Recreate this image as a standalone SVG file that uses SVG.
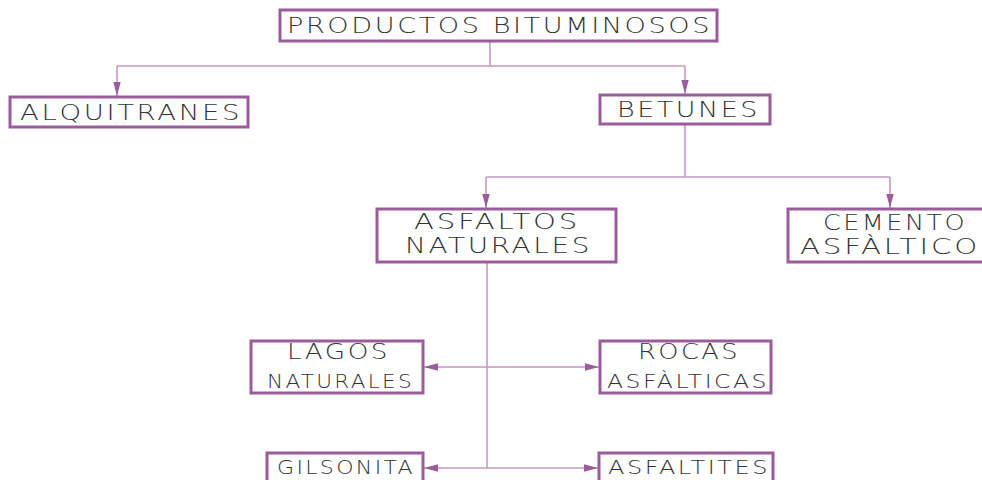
<svg xmlns="http://www.w3.org/2000/svg" width="982" height="480" viewBox="0 0 982 480">
<style>
.box{fill:#fff;stroke:#9a5c9a;stroke-width:3}
.lbl{font-family:"DejaVu Sans","Liberation Sans",Arial,sans-serif;font-size:21px;fill:#333;font-weight:200;letter-spacing:2px}
.sm{font-size:19px}
.con{fill:none;stroke:#c39ac3;stroke-width:1.6}
</style>
<defs>
<marker id="ah" viewBox="0 0 14 8" refX="14" refY="4" markerWidth="14" markerHeight="9" markerUnits="userSpaceOnUse" orient="auto">
<path d="M0,0.3 L14,4 L0,7.7 Z" fill="#9a5c9a"/>
</marker>
</defs>
<rect width="982" height="480" fill="#fff"/>
<g id="connectors">
<path class="con" d="M490,41 V66"/>
<path class="con" d="M117,66 H685"/>
<path class="con" d="M117,66 V96" marker-end="url(#ah)"/>
<path class="con" d="M685,66 V94" marker-end="url(#ah)"/>
<path class="con" d="M685,124 V177"/>
<path class="con" d="M486,177 H890"/>
<path class="con" d="M486,177 V208" marker-end="url(#ah)"/>
<path class="con" d="M890,177 V208" marker-end="url(#ah)"/>
<path class="con" d="M487,262 V468"/>
<path class="con" d="M487,367 H424" marker-end="url(#ah)"/>
<path class="con" d="M487,367 H599" marker-end="url(#ah)"/>
<path class="con" d="M487,468 H424" marker-end="url(#ah)"/>
<path class="con" d="M487,468 H598" marker-end="url(#ah)"/>
</g>
<g id="productos">
<rect class="box" x="280" y="10" width="437" height="31"/>
<text class="lbl" x="287" y="33" textLength="425" lengthAdjust="spacingAndGlyphs">PRODUCTOS BITUMINOSOS</text>
</g>
<g id="alquitranes">
<rect class="box" x="10" y="97" width="238" height="30"/>
<text class="lbl" x="20" y="120" textLength="222" lengthAdjust="spacingAndGlyphs">ALQUITRANES</text>
</g>
<g id="betunes">
<rect class="box" x="600" y="95" width="170" height="29"/>
<text class="lbl" x="617" y="117" textLength="143" lengthAdjust="spacingAndGlyphs">BETUNES</text>
</g>
<g id="asfaltos">
<rect class="box" x="377" y="209" width="239" height="53"/>
<text class="lbl" x="414" y="229" textLength="166" lengthAdjust="spacingAndGlyphs">ASFALTOS</text>
<text class="lbl" x="405" y="253" textLength="187" lengthAdjust="spacingAndGlyphs">NATURALES</text>
</g>
<g id="cemento">
<rect class="box" x="788" y="209" width="200" height="53"/>
<text class="lbl" x="823" y="230" textLength="144" lengthAdjust="spacingAndGlyphs">CEMENTO</text>
<text class="lbl" x="800" y="254" textLength="180" lengthAdjust="spacingAndGlyphs">ASFÀLTICO</text>
</g>
<g id="lagos">
<rect class="box" x="251" y="341" width="172" height="52"/>
<text class="lbl" x="287" y="359" textLength="103" lengthAdjust="spacingAndGlyphs">LAGOS</text>
<text class="lbl sm" x="267" y="388" textLength="147" lengthAdjust="spacingAndGlyphs">NATURALES</text>
</g>
<g id="rocas">
<rect class="box" x="600" y="341" width="171" height="52"/>
<text class="lbl" x="638" y="359" textLength="102" lengthAdjust="spacingAndGlyphs">ROCAS</text>
<text class="lbl sm" x="607" y="388" textLength="162" lengthAdjust="spacingAndGlyphs">ASFÀLTICAS</text>
</g>
<g id="gilsonita">
<rect class="box" x="267" y="453" width="156" height="35"/>
<text class="lbl sm" x="277" y="474" textLength="138" lengthAdjust="spacingAndGlyphs">GILSONITA</text>
</g>
<g id="asfaltites">
<rect class="box" x="599" y="453" width="174" height="35"/>
<text class="lbl sm" x="608" y="474" textLength="162" lengthAdjust="spacingAndGlyphs">ASFALTITES</text>
</g>
</svg>
